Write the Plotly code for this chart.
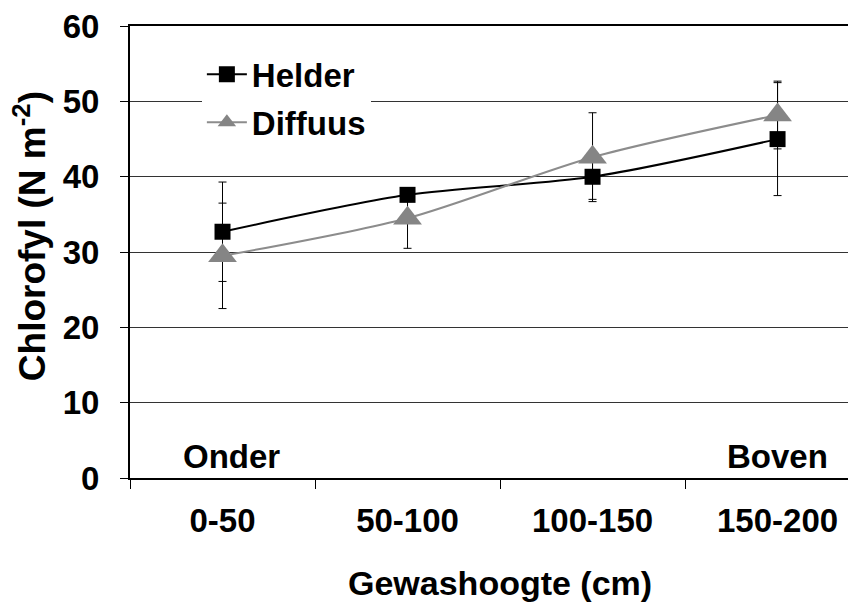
import plotly.graph_objects as go

categories = ["0-50", "50-100", "100-150", "150-200"]
helder = [32.7, 37.6, 40.0, 45.0]
helder_err = [6.6, 0.9, 3.0, 7.5]
diffuus = [29.5, 34.5, 42.6, 48.2]
diffuus_err = [7.0, 4.0, 5.9, 4.5]
y_ticks = [0, 10, 20, 30, 40, 50, 60]

FONT = "Liberation Sans, Arial, sans-serif"
FS = 33

fig = go.Figure()
fig.add_trace(go.Scatter(
    x=categories, y=helder, name="<b>Helder</b>", mode="lines+markers",
    line=dict(color="black", width=2, shape="spline", smoothing=0.8),
    marker=dict(symbol="square", size=16, color="black"),
    error_y=dict(type="data", array=helder_err, color="black", thickness=1, width=4),
    legendgroup="a",
))
fig.add_trace(go.Scatter(
    x=categories, y=diffuus, name="<b>Diffuus</b>", mode="lines+markers",
    line=dict(color="#8c8c8c", width=2, shape="spline", smoothing=0.8),
    marker=dict(symbol="triangle-up", size=25, color="#858585"),
    error_y=dict(type="data", array=diffuus_err, color="black", thickness=1, width=4),
    legendgroup="b",
))

# page body has an 8px margin, so the figure is 8px smaller and margins shifted
fig.update_layout(
    width=848, height=594,
    margin=dict(l=122, r=0, t=18, b=124),
    paper_bgcolor="white", plot_bgcolor="white",
    font=dict(family=FONT, size=FS, color="black"),
    showlegend=True,
    legend=dict(x=0.099, y=0.955, xanchor="left", yanchor="top",
                bgcolor="white", borderwidth=0, tracegroupgap=2,
                font=dict(family=FONT, size=FS, color="black"),
                itemwidth=40),
    xaxis=dict(
        type="category", range=[-0.5, 3.424],
        showline=True, linecolor="black", linewidth=2, mirror=True,
        ticks="outside", tickson="boundaries", ticklen=9, tickcolor="black", tickwidth=1,
        showgrid=False, tickfont=dict(family=FONT, size=FS, color="black"),
        ticklabelstandoff=12,
        tickvals=categories, ticktext=["<b>%s</b>" % c for c in categories],
    ),
    yaxis=dict(
        range=[0, 60.02], tickvals=y_ticks, ticktext=["<b>%d</b>" % v for v in y_ticks],
        showline=True, linecolor="black", linewidth=2,
        ticks="outside", ticklen=8, tickcolor="black", tickwidth=1,
        showgrid=True, gridcolor="#333333", gridwidth=1,
        zeroline=False, ticklabelstandoff=14, ticklabeloverflow="allow",
        automargin=False,
        tickfont=dict(family=FONT, size=FS, color="black"),
    ),
    annotations=[
        dict(x=0.05, y=2.9, xref="x", yref="y", text="<b>Onder</b>", showarrow=False,
             font=dict(family=FONT, size=FS), xanchor="center", yanchor="middle"),
        dict(x=3, y=2.9, xref="x", yref="y", text="<b>Boven</b>", showarrow=False,
             font=dict(family=FONT, size=FS), xanchor="center", yanchor="middle"),
        dict(x=1.5, y=-0.232, xref="x", yref="paper", text="<b>Gewashoogte (cm)</b>",
             showarrow=False, font=dict(family=FONT, size=34), xanchor="center", yanchor="middle"),
        dict(x=-100 / 726, y=0.535, xref="paper", yref="paper",
             text="<b>Chlorofyl (N m<sup>-2</sup>)</b>", textangle=-90, showarrow=False,
             font=dict(family=FONT, size=37), xanchor="center", yanchor="middle"),
    ],
)

fig.write_html("out.html")
